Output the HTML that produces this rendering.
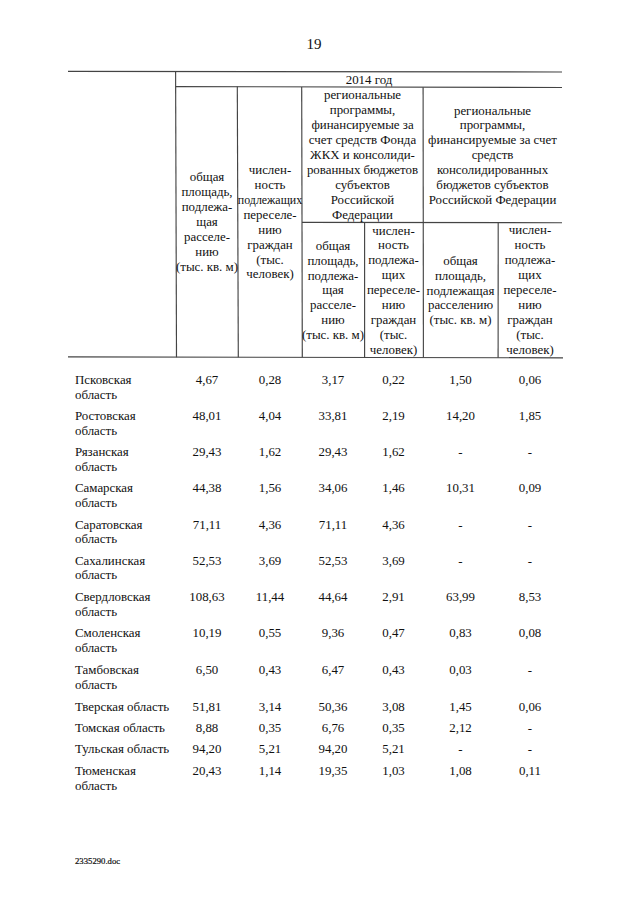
<!DOCTYPE html>
<html><head><meta charset="utf-8"><style>
html,body{margin:0;padding:0;background:#fff;width:640px;height:905px;overflow:hidden}
body{position:relative;font-family:"Liberation Serif",serif;color:#111}
.t{position:absolute;font-size:12.9px;line-height:16px;white-space:nowrap}
.c{width:240px;text-align:center}
.l{position:absolute}
.pg{position:absolute;left:264px;width:100px;text-align:center;font-size:15px;line-height:16px;top:36px}
.ft{position:absolute;left:75px;font-size:8.7px;line-height:16px;top:852.5px;-webkit-text-stroke:0.2px #111}
</style></head><body>
<div class="pg">19</div>
<svg class="l" width="640" height="905" style="left:0;top:0" stroke="#444" stroke-width="1.15"><line x1="68" y1="71.4" x2="562" y2="72.0"/><line x1="175.6" y1="86.6" x2="562" y2="87.5"/><line x1="302" y1="222.3" x2="562" y2="222.7"/><line x1="68" y1="356.9" x2="563" y2="357.8"/><line x1="175.6" y1="71.4" x2="176.5" y2="357.3"/><line x1="237.3" y1="86.6" x2="238.3" y2="357.3"/><line x1="301.7" y1="87.0" x2="302.3" y2="357.3"/><line x1="364.6" y1="222.4" x2="364.6" y2="357.5"/><line x1="423.1" y1="87.3" x2="423.4" y2="357.6"/><line x1="498.2" y1="222.6" x2="498.1" y2="357.7"/></svg>
<div class="t c" style="left:249.00px;top:71.50px">2014 год</div>
<div class="t c" style="left:87.00px;top:169.00px">общая</div>
<div class="t c" style="left:87.00px;top:183.95px">площадь,</div>
<div class="t c" style="left:87.00px;top:198.90px">подлежа-</div>
<div class="t c" style="left:87.00px;top:213.85px">щая</div>
<div class="t c" style="left:87.00px;top:228.80px">расселе-</div>
<div class="t c" style="left:87.00px;top:243.75px">нию</div>
<div class="t c" style="left:87.00px;top:258.70px">(тыс. кв. м)</div>
<div class="t c" style="left:150.00px;top:161.80px">числен-</div>
<div class="t c" style="left:150.00px;top:176.75px">ность</div>
<div class="t c" style="left:150.00px;top:191.70px;transform:scaleX(0.924)">подлежащих</div>
<div class="t c" style="left:150.00px;top:206.65px">переселе-</div>
<div class="t c" style="left:150.00px;top:221.60px">нию</div>
<div class="t c" style="left:150.00px;top:236.55px">граждан</div>
<div class="t c" style="left:150.00px;top:251.50px">(тыс.</div>
<div class="t c" style="left:150.00px;top:266.45px">человек)</div>
<div class="t c" style="left:242.50px;top:87.00px">региональные</div>
<div class="t c" style="left:242.50px;top:101.95px">программы,</div>
<div class="t c" style="left:242.50px;top:116.90px">финансируемые за</div>
<div class="t c" style="left:242.50px;top:131.85px">счет средств Фонда</div>
<div class="t c" style="left:242.50px;top:146.80px">ЖКХ и консолиди-</div>
<div class="t c" style="left:242.50px;top:161.75px">рованных бюджетов</div>
<div class="t c" style="left:242.50px;top:176.70px">субъектов</div>
<div class="t c" style="left:242.50px;top:191.65px">Российской</div>
<div class="t c" style="left:242.50px;top:206.60px">Федерации</div>
<div class="t c" style="left:372.50px;top:102.50px">региональные</div>
<div class="t c" style="left:372.50px;top:117.45px">программы,</div>
<div class="t c" style="left:372.50px;top:132.40px">финансируемые за счет</div>
<div class="t c" style="left:372.50px;top:147.35px">средств</div>
<div class="t c" style="left:372.50px;top:162.30px">консолидированных</div>
<div class="t c" style="left:372.50px;top:177.25px">бюджетов субъектов</div>
<div class="t c" style="left:372.50px;top:192.20px">Российской Федерации</div>
<div class="t c" style="left:213.00px;top:237.60px">общая</div>
<div class="t c" style="left:213.00px;top:252.55px">площадь,</div>
<div class="t c" style="left:213.00px;top:267.50px">подлежа-</div>
<div class="t c" style="left:213.00px;top:282.45px">щая</div>
<div class="t c" style="left:213.00px;top:297.40px">расселе-</div>
<div class="t c" style="left:213.00px;top:312.35px">нию</div>
<div class="t c" style="left:213.00px;top:327.30px">(тыс. кв. м)</div>
<div class="t c" style="left:273.50px;top:222.50px">числен-</div>
<div class="t c" style="left:273.50px;top:237.45px">ность</div>
<div class="t c" style="left:273.50px;top:252.40px">подлежа-</div>
<div class="t c" style="left:273.50px;top:267.35px">щих</div>
<div class="t c" style="left:273.50px;top:282.30px">переселе-</div>
<div class="t c" style="left:273.50px;top:297.25px">нию</div>
<div class="t c" style="left:273.50px;top:312.20px">граждан</div>
<div class="t c" style="left:273.50px;top:327.15px">(тыс.</div>
<div class="t c" style="left:273.50px;top:342.10px">человек)</div>
<div class="t c" style="left:340.50px;top:252.60px">общая</div>
<div class="t c" style="left:340.50px;top:267.55px">площадь,</div>
<div class="t c" style="left:340.50px;top:282.50px">подлежащая</div>
<div class="t c" style="left:340.50px;top:297.45px">расселению</div>
<div class="t c" style="left:340.50px;top:312.40px">(тыс. кв. м)</div>
<div class="t c" style="left:410.00px;top:222.20px">числен-</div>
<div class="t c" style="left:410.00px;top:237.15px">ность</div>
<div class="t c" style="left:410.00px;top:252.10px">подлежа-</div>
<div class="t c" style="left:410.00px;top:267.05px">щих</div>
<div class="t c" style="left:410.00px;top:282.00px">переселе-</div>
<div class="t c" style="left:410.00px;top:296.95px">нию</div>
<div class="t c" style="left:410.00px;top:311.90px">граждан</div>
<div class="t c" style="left:410.00px;top:326.85px">(тыс.</div>
<div class="t c" style="left:410.00px;top:341.80px">человек)</div>
<div class="t" style="left:75.00px;top:372.00px">Псковская</div>
<div class="t" style="left:75.00px;top:386.60px">область</div>
<div class="t c" style="left:87.00px;top:372.00px">4,67</div>
<div class="t c" style="left:150.00px;top:372.00px">0,28</div>
<div class="t c" style="left:213.00px;top:372.00px">3,17</div>
<div class="t c" style="left:273.50px;top:372.00px">0,22</div>
<div class="t c" style="left:340.50px;top:372.00px">1,50</div>
<div class="t c" style="left:410.00px;top:372.00px">0,06</div>
<div class="t" style="left:75.00px;top:408.00px">Ростовская</div>
<div class="t" style="left:75.00px;top:422.60px">область</div>
<div class="t c" style="left:87.00px;top:408.00px">48,01</div>
<div class="t c" style="left:150.00px;top:408.00px">4,04</div>
<div class="t c" style="left:213.00px;top:408.00px">33,81</div>
<div class="t c" style="left:273.50px;top:408.00px">2,19</div>
<div class="t c" style="left:340.50px;top:408.00px">14,20</div>
<div class="t c" style="left:410.00px;top:408.00px">1,85</div>
<div class="t" style="left:75.00px;top:444.20px">Рязанская</div>
<div class="t" style="left:75.00px;top:458.80px">область</div>
<div class="t c" style="left:87.00px;top:444.20px">29,43</div>
<div class="t c" style="left:150.00px;top:444.20px">1,62</div>
<div class="t c" style="left:213.00px;top:444.20px">29,43</div>
<div class="t c" style="left:273.50px;top:444.20px">1,62</div>
<div class="t c" style="left:340.50px;top:444.20px">-</div>
<div class="t c" style="left:410.00px;top:444.20px">-</div>
<div class="t" style="left:75.00px;top:480.40px">Самарская</div>
<div class="t" style="left:75.00px;top:495.00px">область</div>
<div class="t c" style="left:87.00px;top:480.40px">44,38</div>
<div class="t c" style="left:150.00px;top:480.40px">1,56</div>
<div class="t c" style="left:213.00px;top:480.40px">34,06</div>
<div class="t c" style="left:273.50px;top:480.40px">1,46</div>
<div class="t c" style="left:340.50px;top:480.40px">10,31</div>
<div class="t c" style="left:410.00px;top:480.40px">0,09</div>
<div class="t" style="left:75.00px;top:516.60px">Саратовская</div>
<div class="t" style="left:75.00px;top:531.20px">область</div>
<div class="t c" style="left:87.00px;top:516.60px">71,11</div>
<div class="t c" style="left:150.00px;top:516.60px">4,36</div>
<div class="t c" style="left:213.00px;top:516.60px">71,11</div>
<div class="t c" style="left:273.50px;top:516.60px">4,36</div>
<div class="t c" style="left:340.50px;top:516.60px">-</div>
<div class="t c" style="left:410.00px;top:516.60px">-</div>
<div class="t" style="left:75.00px;top:552.70px">Сахалинская</div>
<div class="t" style="left:75.00px;top:567.30px">область</div>
<div class="t c" style="left:87.00px;top:552.70px">52,53</div>
<div class="t c" style="left:150.00px;top:552.70px">3,69</div>
<div class="t c" style="left:213.00px;top:552.70px">52,53</div>
<div class="t c" style="left:273.50px;top:552.70px">3,69</div>
<div class="t c" style="left:340.50px;top:552.70px">-</div>
<div class="t c" style="left:410.00px;top:552.70px">-</div>
<div class="t" style="left:75.00px;top:589.20px">Свердловская</div>
<div class="t" style="left:75.00px;top:603.80px">область</div>
<div class="t c" style="left:87.00px;top:589.20px">108,63</div>
<div class="t c" style="left:150.00px;top:589.20px">11,44</div>
<div class="t c" style="left:213.00px;top:589.20px">44,64</div>
<div class="t c" style="left:273.50px;top:589.20px">2,91</div>
<div class="t c" style="left:340.50px;top:589.20px">63,99</div>
<div class="t c" style="left:410.00px;top:589.20px">8,53</div>
<div class="t" style="left:75.00px;top:625.40px">Смоленская</div>
<div class="t" style="left:75.00px;top:640.00px">область</div>
<div class="t c" style="left:87.00px;top:625.40px">10,19</div>
<div class="t c" style="left:150.00px;top:625.40px">0,55</div>
<div class="t c" style="left:213.00px;top:625.40px">9,36</div>
<div class="t c" style="left:273.50px;top:625.40px">0,47</div>
<div class="t c" style="left:340.50px;top:625.40px">0,83</div>
<div class="t c" style="left:410.00px;top:625.40px">0,08</div>
<div class="t" style="left:75.00px;top:662.10px">Тамбовская</div>
<div class="t" style="left:75.00px;top:676.70px">область</div>
<div class="t c" style="left:87.00px;top:662.10px">6,50</div>
<div class="t c" style="left:150.00px;top:662.10px">0,43</div>
<div class="t c" style="left:213.00px;top:662.10px">6,47</div>
<div class="t c" style="left:273.50px;top:662.10px">0,43</div>
<div class="t c" style="left:340.50px;top:662.10px">0,03</div>
<div class="t c" style="left:410.00px;top:662.10px">-</div>
<div class="t" style="left:75.00px;top:698.70px">Тверская область</div>
<div class="t c" style="left:87.00px;top:698.70px">51,81</div>
<div class="t c" style="left:150.00px;top:698.70px">3,14</div>
<div class="t c" style="left:213.00px;top:698.70px">50,36</div>
<div class="t c" style="left:273.50px;top:698.70px">3,08</div>
<div class="t c" style="left:340.50px;top:698.70px">1,45</div>
<div class="t c" style="left:410.00px;top:698.70px">0,06</div>
<div class="t" style="left:75.00px;top:720.30px">Томская область</div>
<div class="t c" style="left:87.00px;top:720.30px">8,88</div>
<div class="t c" style="left:150.00px;top:720.30px">0,35</div>
<div class="t c" style="left:213.00px;top:720.30px">6,76</div>
<div class="t c" style="left:273.50px;top:720.30px">0,35</div>
<div class="t c" style="left:340.50px;top:720.30px">2,12</div>
<div class="t c" style="left:410.00px;top:720.30px">-</div>
<div class="t" style="left:75.00px;top:741.30px">Тульская область</div>
<div class="t c" style="left:87.00px;top:741.30px">94,20</div>
<div class="t c" style="left:150.00px;top:741.30px">5,21</div>
<div class="t c" style="left:213.00px;top:741.30px">94,20</div>
<div class="t c" style="left:273.50px;top:741.30px">5,21</div>
<div class="t c" style="left:340.50px;top:741.30px">-</div>
<div class="t c" style="left:410.00px;top:741.30px">-</div>
<div class="t" style="left:75.00px;top:763.00px">Тюменская</div>
<div class="t" style="left:75.00px;top:777.60px">область</div>
<div class="t c" style="left:87.00px;top:763.00px">20,43</div>
<div class="t c" style="left:150.00px;top:763.00px">1,14</div>
<div class="t c" style="left:213.00px;top:763.00px">19,35</div>
<div class="t c" style="left:273.50px;top:763.00px">1,03</div>
<div class="t c" style="left:340.50px;top:763.00px">1,08</div>
<div class="t c" style="left:410.00px;top:763.00px">0,11</div>
<div class="ft">2335290.doc</div>
</body></html>
